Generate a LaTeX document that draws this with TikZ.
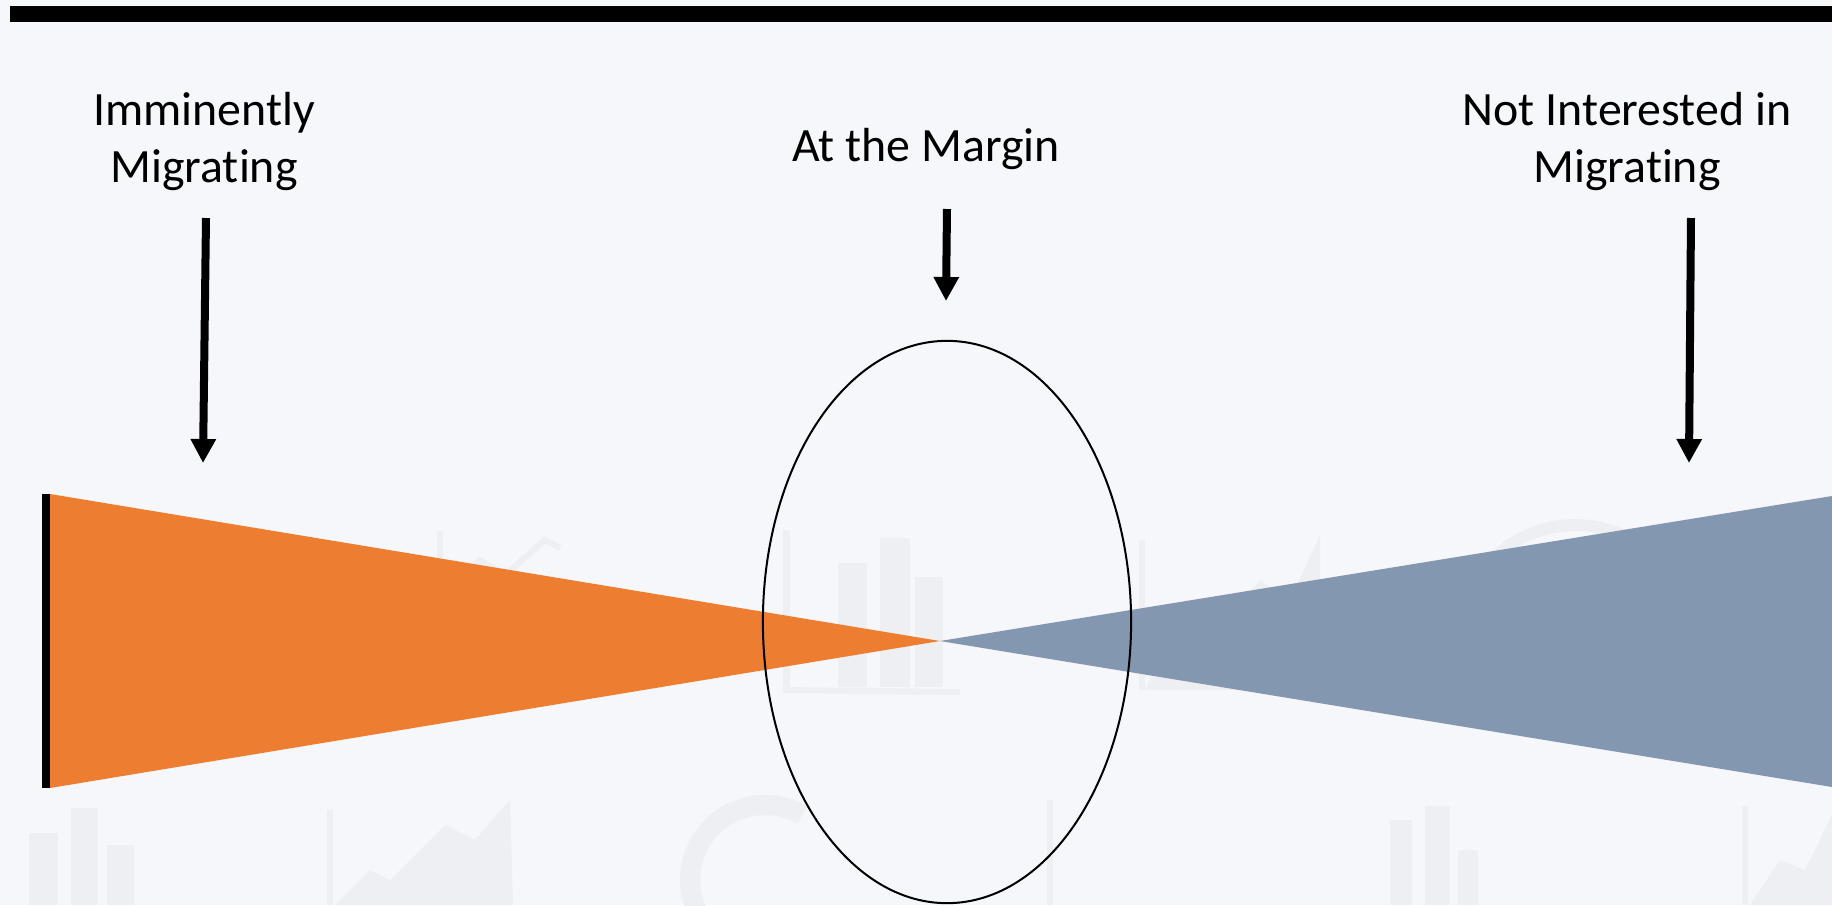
\documentclass[tikz,border=0pt]{standalone}
\usepackage{fontspec}
\setmainfont{Carlito}[Ligatures=NoCommon]
\usetikzlibrary{arrows.meta, positioning, shapes.geometric, calc}
\usepackage{xcolor}
\definecolor{PageBg}{HTML}{F5F7FA}
\definecolor{WedgeL}{HTML}{ED7D31}
\definecolor{WedgeR}{HTML}{8497B0}
\definecolor{Ghost}{HTML}{EEEFF2}
\tikzset{
  lbl/.style={align=center, anchor=base, inner sep=0pt,
    font=\fontsize{13.6pt}{16.2pt}\selectfont},
  pointer/.style={-{Triangle[length=2.4mm, width=2.4mm]}, line width=0.8mm},
  zone/.style={draw, ellipse, line width=0.2mm, inner sep=0pt,
    minimum width=3.68cm, minimum height=5.62cm},
  ghostline/.style={draw=Ghost, line width=0.6mm},
}

\begin{document}
\begin{tikzpicture}[x=0.01cm, y=-0.01cm]
    \useasboundingbox[fill=PageBg] (0,0) rectangle (1832,905);

    % faint chart icons in the backdrop
    \fill[Ghost] (783,530) rectangle (790,687);
    \fill[Ghost] (838,563) rectangle (867,687);
    \fill[Ghost] (880,538) rectangle (910,687);
    \fill[Ghost] (915,577) rectangle (943,687);
    \draw[ghostline] (783,690) -- (960,692);
    \draw[ghostline] (440,531) -- (440,600);
    \draw[ghostline] (445,590) -- (480,560) -- (505,575) -- (545,540) -- (560,548);
    \draw[ghostline] (1142,540) -- (1142,690);
    \fill[Ghost] (1145,690) -- (1180,620) -- (1210,640) -- (1260,580)
      -- (1290,600) -- (1320,535) -- (1320,690) -- cycle;
    \draw[Ghost, line width=1.2mm] (1575,640) ++(205:115) arc[start angle=205, end angle=320, radius=115];
    \fill[Ghost] (29,833) rectangle (58,905);
    \fill[Ghost] (71,808) rectangle (98,905);
    \fill[Ghost] (107,845) rectangle (134,905);
    \draw[ghostline] (330,810) -- (330,905);
    \fill[Ghost] (335,905) -- (370,870) -- (390,880) -- (445,825) -- (475,840)
      -- (510,800) -- (513,905) -- cycle;
    \draw[Ghost, line width=2mm] (765,880) ++(120:75) arc[start angle=120, end angle=300, radius=75];
    \draw[ghostline] (1050,800) -- (1050,905);
    \fill[Ghost] (1390,820) rectangle (1412,905);
    \fill[Ghost] (1425,806) rectangle (1450,905);
    \fill[Ghost] (1458,850) rectangle (1478,905);
    \draw[ghostline] (1745,806) -- (1745,905);
    \fill[Ghost] (1750,905) -- (1780,860) -- (1805,870) -- (1832,815) -- (1832,905) -- cycle;

    % heading rule
    \fill (10,6) rectangle (1832,22);

    % the two wedges meeting in the middle
    \coordinate (apex) at (940,641);
    \fill[WedgeL] (50,494) -- (apex) -- (50,788) -- cycle;
    \fill[WedgeR] (1832,496) -- (apex) -- (1832,787) -- cycle;
    \draw[line width=0.8mm] (46,494) -- (46,788);
    \node[zone] (margin) at (947,622) {};

    \node[lbl] (imm) at (204,182) {Imminently\\Migrating};
    \node[lbl] (atm) at (926,161) {At the Margin};
    \node[lbl] (notint) at (1627,182) {Not Interested in\\Migrating};

    \coordinate (immtop) at (206,218);
    \coordinate (immtip) at (203,463);
    \coordinate (atmtop) at (947,209);
    \coordinate (atmtip) at (946,301);
    \coordinate (nottop) at (1691,218);
    \coordinate (nottip) at (1689,463);
    \draw[pointer] (immtop) -- (immtip);
    \draw[pointer] (atmtop) -- (atmtip);
    \draw[pointer] (nottop) -- (nottip);
\end{tikzpicture}
\end{document}
